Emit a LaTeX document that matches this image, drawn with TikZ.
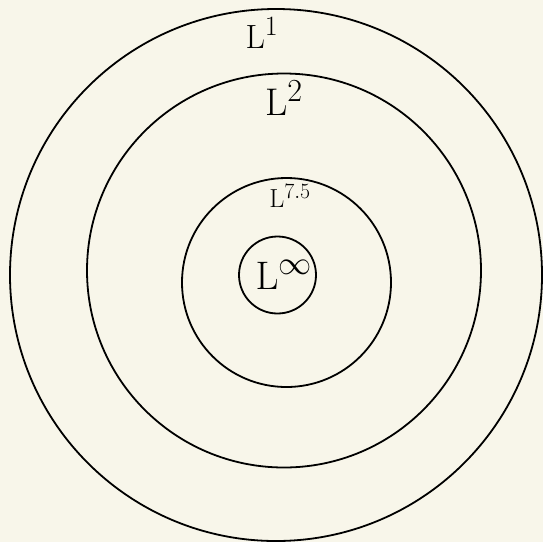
\documentclass[tikz,border=0pt]{standalone}
\definecolor{paper}{RGB}{248,246,234}
\begin{document}
\begin{tikzpicture}[x=1pt,y=-1pt,
  ring/.style={draw=black,line width=1.8pt,circle,inner sep=0pt},
  lab/.style={inner sep=0pt,text=black,font=\Huge}]
\fill[paper] (0,0) rectangle (543,542);
\useasboundingbox (0,0) rectangle (543,542);
\node[ring,minimum size=532pt] (c1) at (276,275) {};
\node[ring,minimum size=394pt] (c2) at (284,270.5) {};
\node[ring,minimum size=209pt] (c3) at (286.5,282.5) {};
\node[ring,minimum size=77pt] (c4) at (277.5,275) {};
\node[lab,scale=1.35] (l1) at (262,33) {$\mathrm{L}^{1}$};
\node[lab,scale=1.55] (l2) at (284,98) {$\mathrm{L}^{2}$};
\node[lab,scale=1.05] (l3) at (290,196) {$\mathrm{L}^{7.5}$};
\node[lab,scale=1.6] (l4) at (284,275) {$\mathrm{L}^{\infty}$};
\end{tikzpicture}
\end{document}
